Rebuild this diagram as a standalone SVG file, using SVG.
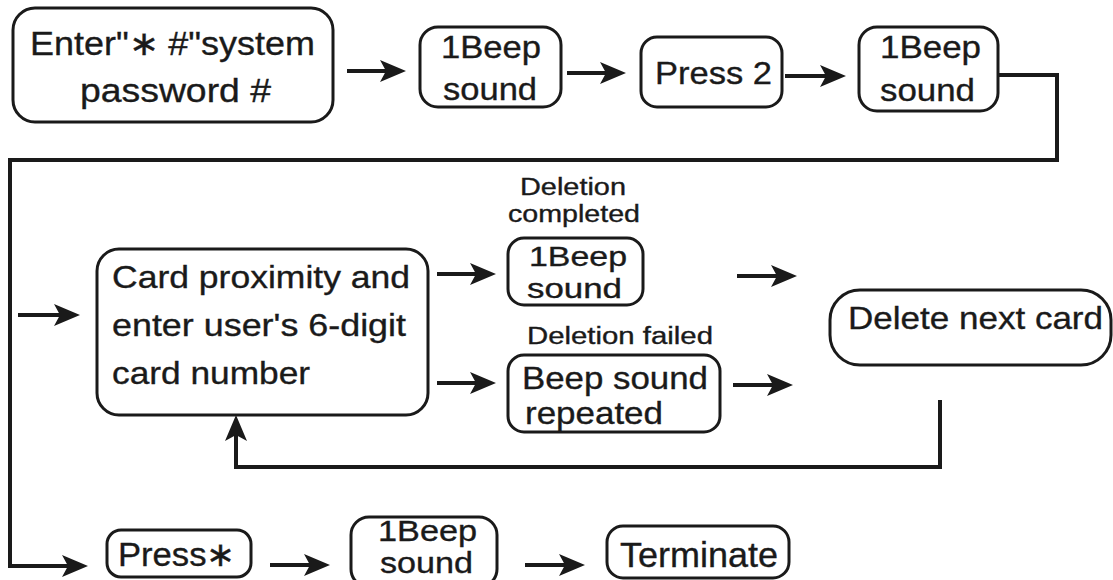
<svg xmlns="http://www.w3.org/2000/svg" width="1113" height="580" viewBox="0 0 1113 580">
<style>
.box{fill:#fff;stroke:#1a1a1a;stroke-width:3}
.t{font-family:"Liberation Sans",Arial,Helvetica,sans-serif;fill:#1a1a1a;stroke:#1a1a1a;stroke-width:0.35}
.lbl{font-size:23px}
.big{font-size:32px}
.con{fill:none;stroke:#1a1a1a;stroke-width:4;marker-end:url(#ah)}
</style>
<defs>
<marker id="ah" viewBox="0 0 26 22" markerWidth="26" markerHeight="22" refX="14" refY="11" markerUnits="userSpaceOnUse" orient="auto">
<path d="M0,0 L26,11 L0,22 L6,11 z" fill="#1a1a1a"/>
</marker>
</defs>
<rect width="1113" height="580" fill="#fff"/>

<g id="connectors">
<line class="con" x1="347" y1="71" x2="394" y2="71"/>
<line class="con" x1="567" y1="73" x2="614" y2="73"/>
<line class="con" x1="785" y1="76" x2="834" y2="76"/>
<path class="con" d="M998,75 H1057 V160 H10 V566 H76"/>
<line class="con" x1="18" y1="315" x2="68" y2="315"/>
<line class="con" x1="437" y1="274" x2="484" y2="274"/>
<line class="con" x1="437" y1="383" x2="484" y2="383"/>
<line class="con" x1="737" y1="276" x2="785" y2="276"/>
<line class="con" x1="733" y1="385" x2="781" y2="385"/>
<path class="con" d="M940,400 V467 H236 V427"/>
<line class="con" x1="270" y1="565" x2="318" y2="565"/>
<line class="con" x1="525" y1="565" x2="573" y2="565"/>
</g>

<g id="n_enter">
<rect class="box" x="13" y="8" width="320" height="114" rx="22"/>
<text class="t" x="30" y="55" font-size="34" textLength="285" lengthAdjust="spacingAndGlyphs">Enter"∗ #"system</text>
<text class="t" x="80" y="102" font-size="34" textLength="191" lengthAdjust="spacingAndGlyphs">password #</text>
</g>

<g id="n_beep1">
<rect class="box" x="420" y="27" width="141" height="80" rx="18"/>
<text class="t big" x="441" y="58" textLength="100" lengthAdjust="spacingAndGlyphs">1Beep</text>
<text class="t big" x="443" y="100" textLength="94" lengthAdjust="spacingAndGlyphs">sound</text>
</g>

<g id="n_press2">
<rect class="box" x="641" y="37" width="141" height="70" rx="16"/>
<text class="t big" x="655" y="84" textLength="117" lengthAdjust="spacingAndGlyphs">Press 2</text>
</g>

<g id="n_beep2">
<rect class="box" x="859" y="27" width="139" height="84" rx="18"/>
<text class="t big" x="880" y="58" textLength="101" lengthAdjust="spacingAndGlyphs">1Beep</text>
<text class="t big" x="880" y="101" textLength="95" lengthAdjust="spacingAndGlyphs">sound</text>
</g>

<g id="n_card">
<rect class="box" x="97" y="249" width="331" height="166" rx="22"/>
<text class="t big" x="112" y="288" textLength="298" lengthAdjust="spacingAndGlyphs">Card proximity and</text>
<text class="t big" x="112" y="336" textLength="294" lengthAdjust="spacingAndGlyphs">enter user's 6-digit</text>
<text class="t big" x="112" y="384" textLength="198" lengthAdjust="spacingAndGlyphs">card number</text>
</g>

<g id="n_completed">
<text class="t lbl" x="520" y="195" textLength="106" lengthAdjust="spacingAndGlyphs">Deletion</text>
<text class="t lbl" x="508" y="222" textLength="132" lengthAdjust="spacingAndGlyphs">completed</text>
<rect class="box" x="508" y="238" width="135" height="67" rx="16"/>
<text class="t" x="529" y="266" font-size="27" textLength="98" lengthAdjust="spacingAndGlyphs">1Beep</text>
<text class="t" x="527" y="298" font-size="27" textLength="95" lengthAdjust="spacingAndGlyphs">sound</text>
</g>

<g id="n_failed">
<text class="t lbl" x="527" y="344" textLength="186" lengthAdjust="spacingAndGlyphs">Deletion failed</text>
<rect class="box" x="508" y="355" width="212" height="77" rx="16"/>
<text class="t big" x="522" y="389" textLength="186" lengthAdjust="spacingAndGlyphs">Beep sound</text>
<text class="t big" x="525" y="424" textLength="138" lengthAdjust="spacingAndGlyphs">repeated</text>
</g>

<g id="n_next">
<rect class="box" x="830" y="290" width="281" height="75" rx="30"/>
<text class="t big" x="848" y="329" textLength="255" lengthAdjust="spacingAndGlyphs">Delete next card</text>
</g>

<g id="n_pressstar">
<rect class="box" x="107" y="530" width="144" height="47" rx="14"/>
<text class="t" x="118" y="566" font-size="34" textLength="117" lengthAdjust="spacingAndGlyphs">Press∗</text>
</g>

<g id="n_beep3">
<rect class="box" x="351" y="517" width="146" height="70" rx="18"/>
<text class="t" x="378" y="541" font-size="29" textLength="99" lengthAdjust="spacingAndGlyphs">1Beep</text>
<text class="t" x="380" y="573" font-size="29" textLength="93" lengthAdjust="spacingAndGlyphs">sound</text>
</g>

<g id="n_terminate">
<rect class="box" x="607" y="526" width="182" height="52" rx="16"/>
<text class="t" x="620" y="567" font-size="35" textLength="158" lengthAdjust="spacingAndGlyphs">Terminate</text>
</g>
</svg>
